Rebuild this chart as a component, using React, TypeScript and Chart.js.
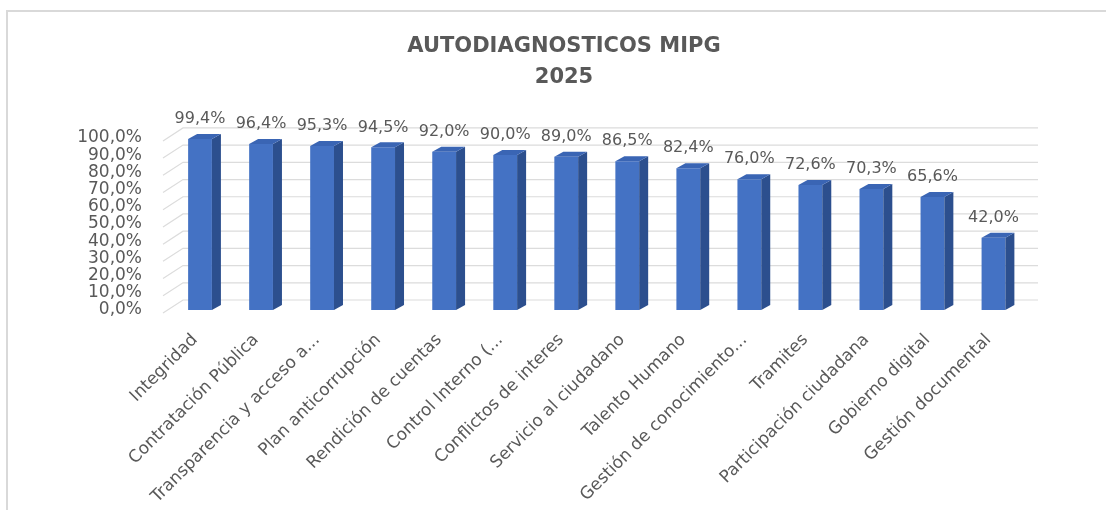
import React, { useEffect, useRef } from "react";
import { Chart, registerables } from "chart.js";

Chart.register(...registerables);

const categories = [
  "Integridad",
  "Contratación Pública",
  "Transparencia y acceso a...",
  "Plan anticorrupción",
  "Rendición de cuentas",
  "Control Interno (...",
  "Conflictos de interes",
  "Servicio al ciudadano",
  "Talento Humano",
  "Gestión de conocimiento...",
  "Tramites",
  "Participación ciudadana",
  "Gobierno digital",
  "Gestión documental",
];

const values = [99.4, 96.4, 95.3, 94.5, 92.0, 90.0, 89.0, 86.5, 82.4, 76.0, 72.6, 70.3, 65.6, 42.0];

const titleLines = ["AUTODIAGNOSTICOS MIPG", "2025"];

const FONT = "'DejaVu Sans', sans-serif";
const GREY = "#595959";
const fmt = (v: number) => v.toFixed(1).replace(".", ",") + "%";

const depthGrid = {
  id: "depthGrid",
  beforeDatasetsDraw(chart: any) {
    const ctx = chart.ctx;
    const y = chart.scales.y;
    const { left, right } = chart.chartArea;
    ctx.save();
    ctx.strokeStyle = "#dcdcdc";
    ctx.lineWidth = 1.2;
    y.ticks.forEach((t: any) => {
      const py = y.getPixelForValue(t.value);
      ctx.beginPath();
      ctx.moveTo(left - 6.5, py + 3);
      ctx.lineTo(left + 13.5, py - 10);
      ctx.lineTo(right + 14, py - 10);
      ctx.stroke();
    });
    ctx.restore();
  },
};

const bar3d = {
  id: "bar3d",
  afterDatasetsDraw(chart: any) {
    const ctx = chart.ctx;
    const meta = chart.getDatasetMeta(0);
    const dx = 9;
    const dy = -5;
    ctx.save();
    meta.data.forEach((el: any, i: number) => {
      const { x, y, base, width } = el.getProps(["x", "y", "base", "width"], true);
      const l = x - width / 2;
      const r = x + width / 2;
      ctx.fillStyle = "#2c4f8e";
      ctx.beginPath();
      ctx.moveTo(r, y);
      ctx.lineTo(r + dx, y + dy);
      ctx.lineTo(r + dx, base + dy);
      ctx.lineTo(r, base);
      ctx.closePath();
      ctx.fill();
      ctx.fillStyle = "#3a65b4";
      ctx.beginPath();
      ctx.moveTo(l, y);
      ctx.lineTo(l + dx, y + dy);
      ctx.lineTo(r + dx, y + dy);
      ctx.lineTo(r, y);
      ctx.closePath();
      ctx.fill();
      ctx.fillStyle = GREY;
      ctx.font = `16px ${FONT}`;
      ctx.textAlign = "center";
      ctx.textBaseline = "middle";
      ctx.fillText(fmt(values[i]), x, y - 20);
    });
    ctx.restore();
  },
};

export default function App() {
  const ref = useRef<HTMLCanvasElement | null>(null);

  useEffect(() => {
    if (!ref.current) return;
    const chart = new Chart(ref.current, {
      type: "bar",
      data: {
        labels: categories,
        datasets: [
          {
            data: values,
            backgroundColor: "#4472c4",
            borderWidth: 0,
            barPercentage: 0.39,
            categoryPercentage: 1,
          },
        ],
      },
      options: {
        animation: false,
        responsive: false,
        maintainAspectRatio: false,
        layout: { padding: 0 },
        plugins: {
          legend: { display: false },
          tooltip: { enabled: false },
          title: {
            display: true,
            text: titleLines,
            color: GREY,
            font: { family: FONT, weight: "bold", size: 21, lineHeight: 1.45 },
            padding: { top: 19.75, bottom: 45.25 },
          },
        },
        scales: {
          x: {
            grid: { display: false },
            border: { display: false },
            ticks: {
              autoSkip: false,
              maxRotation: 45,
              minRotation: 45,
              color: GREY,
              font: { family: FONT, size: 17 },
              padding: 12,
              labelOffset: -5,
            },
            afterFit: (s: any) => {
              s.height = 200;
            },
          },
          y: {
            min: 0,
            max: 100,
            grid: { display: false, drawTicks: false },
            border: { display: false },
            ticks: {
              stepSize: 10,
              autoSkip: false,
              color: GREY,
              font: { family: FONT, size: 17 },
              padding: 27.5,
              callback: (v: any) => fmt(Number(v)),
            },
            afterFit: (s: any) => {
              s.width = 161.5;
            },
          },
          yRight: {
            position: "right",
            display: true,
            grid: { display: false, drawTicks: false },
            border: { display: false },
            ticks: { display: false },
            afterFit: (s: any) => {
              s.width = 96;
            },
          },
        },
      },
      plugins: [depthGrid, bar3d],
    });
    return () => chart.destroy();
  }, []);

  return (
    <div
      style={{
        position: "fixed",
        left: 0,
        top: 0,
        width: 1106,
        height: 510,
        overflow: "hidden",
        background: "#fff",
      }}
    >
      <div
        style={{
          position: "absolute",
          left: 6,
          top: 10,
          width: 1300,
          height: 700,
          borderLeft: "2px solid #d9d9d9",
          borderTop: "2px solid #d9d9d9",
        }}
      />
      <canvas
        ref={ref}
        width={1112}
        height={498}
        style={{ position: "absolute", left: 8, top: 12, width: 1112, height: 498 }}
      />
    </div>
  );
}
